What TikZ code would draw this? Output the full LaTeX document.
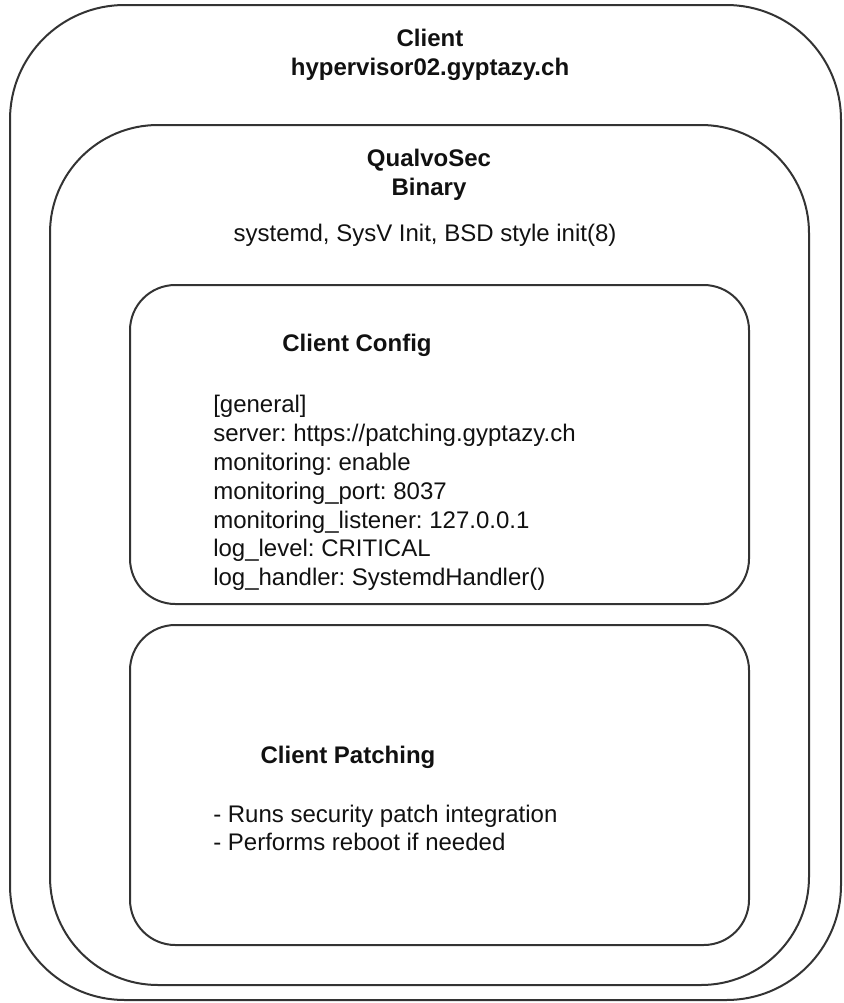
\documentclass[tikz,border=0pt]{standalone}
\usepackage{fontspec}
\setmainfont{Liberation Sans}
\usepackage{tikz}
\usepackage{xcolor}
\definecolor{boxline}{HTML}{333333}
\definecolor{txt}{HTML}{111111}
\frenchspacing

\begin{document}
\begin{tikzpicture}[x=0.75pt,y=-0.75pt,
		box/.style={draw=boxline,line width=1.5pt},
		lbl/.style={inner sep=0pt,text=txt,font=\fontsize{18}{21.6}\selectfont}]
			\useasboundingbox (0,0) rectangle (843,1003);
			% nested boxes
			\draw[box,rounded corners=86pt] (10,5) rectangle (841,1000);
			\draw[box,rounded corners=81pt] (50,125) rectangle (809,985);
			\draw[box,rounded corners=34pt] (130,285) rectangle (749,604);
			\draw[box,rounded corners=34pt] (130,625) rectangle (749,945);
			% labels
			\node[lbl,align=center,font=\fontsize{18}{22}\selectfont\bfseries] (client) at (430,55) {Client\\hypervisor02.gyptazy.ch};
			\node[lbl,align=center,font=\fontsize{18}{22}\selectfont\bfseries] (binary) at (429,175) {QualvoSec\\Binary};
			\node[lbl] (init) at (425,235) {systemd, SysV Init, BSD style init(8)};
			\node[lbl,font=\fontsize{18}{22}\selectfont\bfseries] (config) at (357,345) {Client Config};
			\node[lbl,align=left,anchor=west] (settings) at (213,493) {[general]\\server: https://patching.gyptazy.ch\\monitoring: enable\\monitoring\_port: 8037\\monitoring\_listener: 127.0.0.1\\log\_level: CRITICAL\\log\_handler: SystemdHandler()};
			\node[lbl,font=\fontsize{18}{22}\selectfont\bfseries] (patching) at (348,757) {Client Patching};
			\node[lbl,align=left,anchor=west] (tasks) at (213,828) {- Runs security patch integration\\- Performs reboot if needed};
		\end{tikzpicture}
\end{document}
